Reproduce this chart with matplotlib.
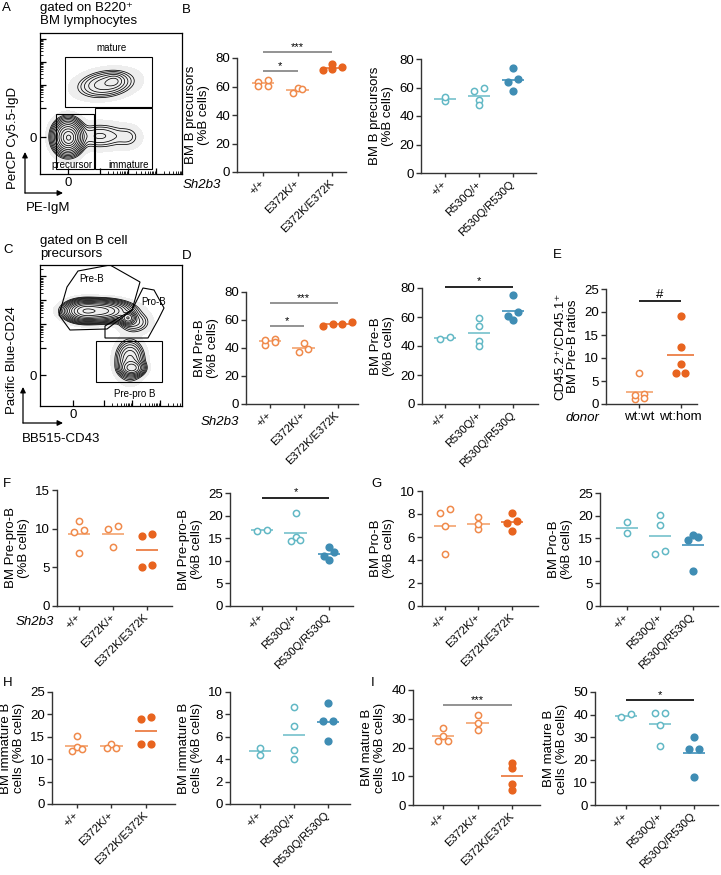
import numpy as np
import matplotlib
matplotlib.use("Agg")
import matplotlib.pyplot as plt
from matplotlib.patches import Rectangle, Polygon

plt.rcParams['font.family'] = ['Liberation Sans', 'DejaVu Sans']
plt.rcParams['axes.linewidth'] = 1.0

W, H = 721, 875

# ---------------- data ----------------
E_CATS = ['+/+', 'E372K/+', 'E372K/E372K']
R_CATS = ['+/+', 'R530Q/+', 'R530Q/R530Q']
DONOR_CATS = ['wt:wt', 'wt:hom']

B_E = [[63.5, 60.5, 64.5, 60.3], [59.0, 55.5, 58.0], [75.5, 71.5, 73.5, 72.5]]
B_R = [[50.6, 53.5], [57.5, 59.6, 51.0, 47.6], [73.9, 65.7, 64.0, 57.5]]
D_E = [[46.5, 42.0, 46.0, 44.5], [36.9, 43.5, 39.5], [55.9, 58.5, 57.3, 57.3]]
D_R = [[44.8, 46.0], [59.0, 53.8, 43.2, 40.2], [75.0, 63.2, 61.0, 57.7]]
E_RATIO = [[6.7, 2.2, 1.0, 1.9, 1.3], [19.1, 12.4, 8.6, 6.8, 6.8]]
F_E = [[11.0, 9.8, 9.6, 6.9], [10.4, 9.9, 7.6], [9.1, 9.3, 5.1, 5.3]]
F_R = [[16.6, 16.9], [20.6, 14.4, 15.3, 14.7], [13.0, 11.9, 11.1, 10.2]]
G_E = [[8.1, 8.4, 7.0, 4.5], [7.7, 6.7, 7.1], [8.1, 7.4, 7.2, 6.5]]
G_R = [[18.6, 16.1], [20.2, 17.9, 11.5, 12.2], [15.3, 15.8, 14.7, 7.8]]
H_E = [[15.2, 11.8, 12.8, 12.2], [13.5, 12.6, 12.6], [19.0, 19.5, 13.4, 13.4]]
H_R = [[5.0, 4.4], [8.7, 7.0, 4.8, 4.0], [9.0, 7.4, 7.4, 5.6]]
I_E = [[26.8, 24.0, 22.3, 22.3], [31.4, 28.6, 26.0], [14.7, 12.7, 7.3, 5.1]]
I_R = [[39.0, 40.2], [40.5, 40.8, 35.2, 26.2], [29.9, 24.9, 24.6, 12.5]]

# significance: (group a, group b, y, label, gray?)
SIG_B_E = [(0, 1, 71, '*', True), (0, 2, 84, '***', True)]
SIG_D_E = [(0, 1, 55.6, '*', True), (0, 2, 72.4, '***', True)]
SIG_D_R = [(0, 2, 81, '*', False)]
SIG_E = [(0, 1, 22.5, '#', False)]
SIG_F_R = [(0, 2, 24, '*', False)]
SIG_I_E = [(0, 2, 34.8, '***', True)]
SIG_I_R = [(0, 2, 46.6, '*', False)]

# flow cytometry density model (gaussian blobs): cx, cy, sx, sy, amp, rot
A_CX = [28, 29, 60, 88, 66, 74]
A_CY = [37, 36, 38, 37, 90, 93]
A_SX = [6.5, 3.5, 14, 7, 14, 5]
A_SY = [7.5, 4, 6.5, 6, 6.5, 3.5]
A_AMP = [1.0, 0.6, 0.05, 0.02, 0.1, 0.06]
A_ROT = [0, 0, 0, 0, 8, 8]

C_CX = [60, 44, 88, 94, 90, 92]
C_CY = [95, 95, 88, 84, 46, 38]
C_SX = [13, 8, 3.5, 8, 6.5, 5.5]
C_SY = [4.5, 4.5, 3, 5.5, 9, 3.5]
C_AMP = [0.6, 0.5, 0.3, 0.03, 0.1, 0.22]
C_ROT = [0, 0, 0, 0, 0, 0]

# ---------------- styles ----------------
OR_OPEN = '#F08A4B'; OR_OPEN_LINE = '#F5AA7A'
OR_FILL = '#E8641F'; OR_FILL_LINE = '#EC7E45'
BL_OPEN = '#62B8C5'; BL_OPEN_LINE = '#80C6D0'
BL_FILL = '#3F8DB4'; BL_FILL_LINE = '#4E9AC0'
SIG_GRAY = '#808080'
SPINE = '#333333'

E_STY = [(OR_OPEN, OR_OPEN_LINE, False), (OR_OPEN, OR_OPEN_LINE, False), (OR_FILL, OR_FILL_LINE, True)]
R_STY = [(BL_OPEN, BL_OPEN_LINE, False), (BL_OPEN, BL_OPEN_LINE, False), (BL_FILL, BL_FILL_LINE, True)]
DONOR_STY = [(OR_OPEN, OR_OPEN_LINE, False), (OR_FILL, OR_FILL_LINE, True)]

fig = plt.figure(figsize=(W / 100, H / 100), dpi=100)


def px_axes(L, R, T, B):
    return fig.add_axes([L / W, 1 - B / H, (R - L) / W, (B - T) / H])


def swarm(ax, xc, vals, spacing_px=9.5, thresh_px=3.9):
    tr = ax.transData
    ypx = np.array([tr.transform((xc, v))[1] for v in vals])
    x0 = tr.transform((xc, 0))[0]
    x1 = tr.transform((xc + 1, 0))[0]
    ppu = x1 - x0
    order = np.argsort(ypx)
    rows = []
    for idx in order:
        if rows and ypx[idx] - ypx[rows[-1][0]] < thresh_px:
            rows[-1].append(idx)
        else:
            rows.append([idx])
    offs = np.zeros(len(vals))
    for row in rows:
        n = len(row)
        for k, idx in enumerate(row):
            offs[idx] = (k - (n - 1) / 2) * spacing_px / ppu
    return xc + offs


def dot_panel(box, groups, cats, styles, ylim, ystep, xlim, ylabel, sigs=(), rotate=True):
    ax = px_axes(*box)
    ax.set_xlim(*xlim)
    ax.set_ylim(*ylim)
    ax.patch.set_alpha(0)
    for s in ['top', 'right']:
        ax.spines[s].set_visible(False)
    for s in ['left', 'bottom']:
        ax.spines[s].set_color(SPINE)
    ax.set_yticks(np.arange(ylim[0], ylim[1] + 1e-9, ystep))
    ax.set_xticks(range(len(cats)))
    if rotate:
        ax.set_xticklabels(cats, rotation=45, ha='right', va='center',
                           rotation_mode='anchor', fontsize=8)
        ax.tick_params(axis='x', length=3, width=1, pad=4, color=SPINE)
    else:
        ax.set_xticklabels(cats, fontsize=9.5)
        ax.tick_params(axis='x', length=3, width=1, pad=2, color=SPINE)
    ax.tick_params(axis='y', length=3.5, width=1, labelsize=9.5, pad=1.5, color=SPINE)
    ax.set_ylabel(ylabel, fontsize=9.5, labelpad=4, linespacing=1.05)
    for i, (vals, (col, lcol, filled)) in enumerate(zip(groups, styles)):
        xs = swarm(ax, i, vals)
        ax.plot(xs, vals, 'o', ls='none', ms=4.8 if filled else 4.5,
                mfc=col if filled else 'white', mec=col, mew=1.1,
                clip_on=False, zorder=3)
        m = np.mean(vals)
        ax.plot([i - 0.33, i + 0.33], [m, m], color=lcol, lw=1.3,
                solid_capstyle='butt', zorder=2, clip_on=False)
    for (a, b, y, t, gray) in sigs:
        ax.plot([a, b], [y, y], color=SIG_GRAY if gray else 'black', lw=1.2,
                clip_on=False, solid_capstyle='butt')
        ax.text((a + b) / 2, y, t, ha='center', va='bottom', fontsize=8 if t != '#' else 9.5,
                color='black')
    return ax


def blob_density(X, Y, cx, cy, sx, sy, amp, rot):
    Z = np.zeros_like(X)
    for a, b, s1, s2, m, r in zip(cx, cy, sx, sy, amp, rot):
        th = np.deg2rad(r)
        dx, dy = X - a, Y - b
        u = dx * np.cos(th) + dy * np.sin(th)
        v = -dx * np.sin(th) + dy * np.cos(th)
        Z += m * np.exp(-0.5 * ((u / s1) ** 2 + (v / s2) ** 2))
    return Z


def flow_panel(box, dens, yzero, xzero, ydec, xdec):
    ax = px_axes(*box)
    w = box[1] - box[0]
    h = box[3] - box[2]
    ax.set_xlim(0, w)
    ax.set_ylim(0, h)
    xs = np.linspace(0, w, 320)
    ys = np.linspace(0, h, 320)
    X, Y = np.meshgrid(xs, ys)
    Z = blob_density(X, Y, *dens)
    zmax = Z.max()
    ax.contourf(X, Y, Z, levels=[zmax * 0.0015, zmax * 10], colors=['#eeeeee'])
    levels = zmax * np.geomspace(0.008, 0.9, 12)
    ax.contour(X, Y, Z, levels=levels, colors='black', linewidths=0.55)
    for s in ax.spines.values():
        s.set_linewidth(0.9)
    # ticks (biexponential-like decoration)
    ymaj = [yzero] + list(ydec)
    xmaj = [xzero] + list(xdec)
    ymin = [d + 23 * np.log10(k) for d in ydec for k in range(2, 10) if d + 23 * np.log10(k) < h]
    xmin = [d + 28 * np.log10(k) for d in xdec for k in range(2, 10) if d + 28 * np.log10(k) < w]
    ax.set_yticks(ymaj)
    ax.set_yticklabels(['0'] + [''] * len(ydec))
    ax.set_xticks(xmaj)
    ax.set_xticklabels(['0'] + [''] * len(xdec))
    ax.set_yticks(ymin, minor=True)
    ax.set_xticks(xmin, minor=True)
    ax.tick_params(which='major', direction='in', length=4, width=0.9, labelsize=9.5, pad=2)
    ax.tick_params(which='minor', direction='in', length=2, width=0.6)
    return ax


# ---------------- flow panels ----------------
axA = flow_panel((40, 182, 33, 174), (A_CX, A_CY, A_SX, A_SY, A_AMP, A_ROT),
                 37, 28, [66, 89, 112, 135], [60, 88, 116])
axA.add_patch(Rectangle((25, 67), 87, 50, fill=False, lw=0.8, ec='black'))
axA.add_patch(Rectangle((16, 5), 38, 55, fill=False, lw=0.8, ec='black'))
axA.add_patch(Rectangle((55, 5), 57, 61, fill=False, lw=0.8, ec='black'))
axA.text(72, 126, 'mature', ha='center', va='center', fontsize=7)
axA.text(32, 9, 'precursor', ha='center', va='center', fontsize=7)
axA.text(89, 9, 'immature', ha='center', va='center', fontsize=7)

axC = flow_panel((40, 182, 265, 406), (C_CX, C_CY, C_SX, C_SY, C_AMP, C_ROT),
                 31, 33, [58, 82, 106, 130], [64, 92, 120])
axC.add_patch(Polygon([(38, 135), (70, 141), (100, 124), (92, 96), (67, 77), (30, 76), (19, 91), (27, 119)],
                      closed=True, fill=False, lw=0.8, ec='black'))
axC.add_patch(Polygon([(103, 118), (114, 116), (124, 98), (118, 86), (108, 68), (65, 68), (65, 80), (92, 96)],
                      closed=True, fill=False, lw=0.8, ec='black'))
axC.add_patch(Rectangle((56, 24), 66, 41, fill=False, lw=0.8, ec='black'))
axC.text(52, 127, 'Pre-B', ha='center', va='center', fontsize=7)
axC.text(114, 104, 'Pro-B', ha='center', va='center', fontsize=7)
axC.text(95, 12, 'Pre-pro B', ha='center', va='center', fontsize=7)

# ---------------- dot panels ----------------
dot_panel((237, 346, 58, 172), B_E, E_CATS, E_STY, (0, 80), 20, (-0.75, 2.4),
          'BM B precursors\n(%B cells)', SIG_B_E)
dot_panel((421, 536, 59, 173), B_R, R_CATS, R_STY, (0, 80), 20, (-0.7, 2.68),
          'BM B precursors\n(%B cells)')
dot_panel((246, 358, 292, 404), D_E, E_CATS, E_STY, (0, 80), 20, (-0.7, 2.6),
          'BM Pre-B\n(%B cells)', SIG_D_E)
dot_panel((422, 538, 288, 404), D_R, R_CATS, R_STY, (0, 80), 20, (-0.68, 2.73),
          'BM Pre-B\n(%B cells)', SIG_D_R)
dot_panel((606, 697, 289, 404), E_RATIO, DONOR_CATS, DONOR_STY, (0, 25), 5, (-0.81, 1.4),
          'CD45.2\u207a/CD45.1\u207a\nBM Pre-B ratios', SIG_E, rotate=False)
dot_panel((57, 172, 490, 606), F_E, E_CATS, E_STY, (0, 15), 5, (-0.65, 2.74),
          'BM Pre-pro-B\n(%B cells)')
dot_panel((230, 353, 493, 606), F_R, R_CATS, R_STY, (0, 25), 5, (-0.96, 2.72),
          'BM Pre-pro-B\n(%B cells)', SIG_F_R)
dot_panel((422, 538, 491, 606), G_E, E_CATS, E_STY, (0, 10), 2, (-0.69, 2.78),
          'BM Pro-B\n(%B cells)')
dot_panel((600, 718, 493, 606), G_R, R_CATS, R_STY, (0, 25), 5, (-0.82, 2.76),
          'BM Pro-B\n(%B cells)')
dot_panel((52, 175, 692, 804), H_E, E_CATS, E_STY, (0, 25), 5, (-0.72, 2.84),
          'BM immature B\ncells (%B cells)')
dot_panel((230, 350, 692, 804), H_R, R_CATS, R_STY, (0, 10), 2, (-0.88, 2.65),
          'BM immature B\ncells (%B cells)')
dot_panel((413, 540, 690, 805), I_E, E_CATS, E_STY, (0, 40), 10, (-0.87, 2.81),
          'BM mature B\ncells (%B cells)', SIG_I_E)
dot_panel((595, 718, 692, 805), I_R, R_CATS, R_STY, (0, 50), 10, (-0.91, 2.71),
          'BM mature B\ncells (%B cells)', SIG_I_R)

# ---------------- overlay text / arrows ----------------
ov = fig.add_axes([0, 0, 1, 1], zorder=10)
ov.set_xlim(0, W)
ov.set_ylim(H, 0)
ov.axis('off')
ov.patch.set_alpha(0)

for lab, x, y in [('A', 2, 2), ('B', 182, 4), ('C', 3, 244), ('D', 182, 250), ('E', 553, 249),
                  ('F', 3, 478), ('G', 371, 478), ('H', 3, 677), ('I', 371, 677)]:
    ov.text(x, y, lab, ha='left', va='top', fontsize=9.5)

ov.text(40, 2, 'gated on B220\u207a\nBM lymphocytes', ha='left', va='top', fontsize=9.5,
        linespacing=1.1)
ov.text(40, 235, 'gated on B cell\nprecursors', ha='left', va='top', fontsize=9.5,
        linespacing=1.1)

arrow = dict(arrowstyle='-|>', color='black', lw=0.9, mutation_scale=8, shrinkA=0, shrinkB=0)
ov.annotate('', xy=(25, 152), xytext=(25, 193), arrowprops=arrow)
ov.annotate('', xy=(63, 193), xytext=(25, 193), arrowprops=arrow)
ov.text(13, 138, 'PerCP Cy5.5-IgD', rotation=90, ha='center', va='center', fontsize=9.5)
ov.text(48, 208, 'PE-IgM', ha='center', va='center', fontsize=9.5)

ov.annotate('', xy=(23, 387), xytext=(23, 423), arrowprops=arrow)
ov.annotate('', xy=(63, 423), xytext=(23, 423), arrowprops=arrow)
ov.text(12, 360, 'Pacific Blue-CD24', rotation=90, ha='center', va='center', fontsize=9.5)
ov.text(61, 439, 'BB515-CD43', ha='center', va='center', fontsize=9.5)

ov.text(202, 185, 'Sh2b3', ha='center', va='center', fontsize=9.5, style='italic')
ov.text(220, 422, 'Sh2b3', ha='center', va='center', fontsize=9.5, style='italic')
ov.text(35, 622, 'Sh2b3', ha='center', va='center', fontsize=9.5, style='italic')
ov.text(582, 418, 'donor', ha='center', va='center', fontsize=9.5, style='italic')

fig.savefig('out.png', dpi=100)
